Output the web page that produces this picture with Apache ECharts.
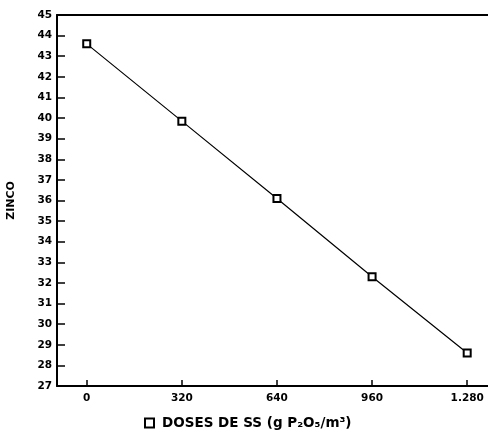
<!DOCTYPE html>
<html>
<head>
<meta charset="utf-8">
<script src="https://cdn.jsdelivr.net/npm/echarts@6/dist/echarts.min.js"></script>
<style>
  html, body { margin: 0; padding: 0; background: #fff; }
  #chart { width: 488px; height: 432px; }
</style>
</head>
<body>
<div id="chart"></div>
<script>
// Zinc content versus sewage-sludge dose
const doses = [0, 320, 640, 960, 1280];
const zinco = [43.6, 39.85, 36.1, 32.3, 28.6];
const doseTicks = [0, 320, 640, 960, 1280];
const seriesName = 'DOSES DE SS (g P\u2082O\u2085/m\u00b3)';

const chart = echarts.init(document.getElementById('chart'), null, { renderer: 'canvas' });

const labelFont = {
  color: '#000',
  fontFamily: 'DejaVu Sans, sans-serif',
  fontWeight: 'bold',
  fontSize: 10.5
};

chart.setOption({
  animation: false,
  backgroundColor: '#fff',
  grid: { left: 57, right: 0, top: 15, bottom: 46, containLabel: false, outerBoundsMode: 'none' },
  legend: {
    data: [seriesName],
    left: 139,
    top: 411,
    icon: 'rect',
    itemWidth: 9,
    itemHeight: 9,
    itemGap: 8,
    itemStyle: { color: '#fff', borderColor: '#000', borderWidth: 2 },
    textStyle: Object.assign({}, labelFont, { fontSize: 13.5, padding: [0, 0, 0, 3] })
  },
  xAxis: [{
    type: 'value',
    min: -100,
    max: 1350,
    splitLine: { show: false },
    axisLine: { show: true, onZero: false, lineStyle: { color: '#000', width: 2 } },
    axisTick: {
      show: true, inside: true, length: 6,
      customValues: doseTicks,
      lineStyle: { color: '#000', width: 1.5 }
    },
    axisLabel: Object.assign({
      customValues: doseTicks,
      margin: 7,
      formatter: v => String(v).replace(/\B(?=(\d{3})+(?!\d))/g, '.')
    }, labelFont)
  }, {
    type: 'value',
    position: 'top',
    min: -100,
    max: 1350,
    splitLine: { show: false },
    axisLine: { show: true, onZero: false, lineStyle: { color: '#000', width: 2 } },
    axisTick: { show: false },
    axisLabel: { show: false }
  }],
  yAxis: {
    type: 'value',
    min: 27,
    max: 45,
    interval: 1,
    name: 'ZINCO',
    nameLocation: 'middle',
    nameRotate: 90,
    nameGap: 40,
    nameTextStyle: Object.assign({}, labelFont, { fontSize: 11 }),
    splitLine: { show: false },
    axisLine: { show: true, onZero: false, lineStyle: { color: '#000', width: 2 } },
    axisTick: { show: true, inside: true, length: 8, lineStyle: { color: '#000', width: 1.5 } },
    axisLabel: Object.assign({ margin: 5 }, labelFont)
  },
  series: [{
    name: seriesName,
    type: 'line',
    data: doses.map((d, i) => [d, zinco[i]]),
    symbol: 'rect',
    symbolSize: 7,
    showAllSymbol: true,
    lineStyle: { color: '#000', width: 1.2 },
    itemStyle: { color: '#fff', borderColor: '#000', borderWidth: 2 }
  }]
});
</script>
</body>
</html>
